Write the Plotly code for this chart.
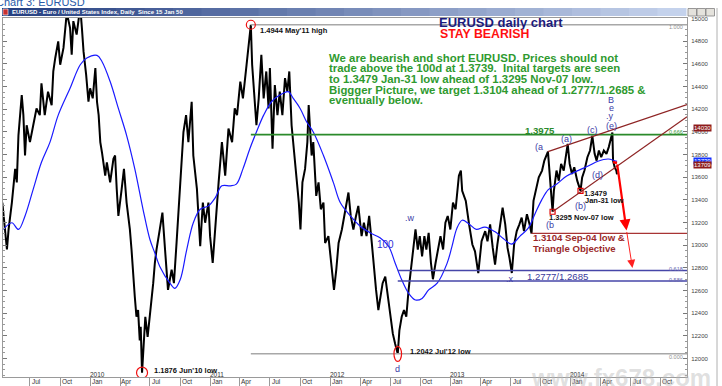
import plotly.graph_objects as go
import pandas as pd

# ---------------- data ----------------
price_dates = [
 "2009-04-08","2009-04-12","2009-04-22","2009-04-27","2009-05-07","2009-05-17","2009-05-22","2009-05-27",
 "2009-06-06","2009-06-11","2009-06-16","2009-06-21","2009-07-01","2009-07-11","2009-07-21","2009-07-31",
 "2009-08-05","2009-08-15","2009-08-25","2009-09-05","2009-09-10","2009-09-16","2009-09-25","2009-10-01",
 "2009-10-11","2009-10-21","2009-10-31","2009-11-05","2009-11-10","2009-11-20","2009-12-01","2009-12-06",
 "2009-12-11","2009-12-19","2009-12-26","2009-12-31","2010-01-08","2010-01-16","2010-01-21","2010-01-26",
 "2010-01-31","2010-02-05","2010-02-15","2010-02-20","2010-03-02","2010-03-12","2010-03-17","2010-03-22",
 "2010-03-27","2010-04-06","2010-04-13","2010-04-21","2010-05-01","2010-05-06","2010-05-11","2010-05-16",
 "2010-05-21","2010-05-26","2010-05-31","2010-06-03","2010-06-07","2010-06-12","2010-06-17","2010-06-24",
 "2010-07-01","2010-07-06","2010-07-11","2010-07-16","2010-07-21","2010-07-31","2010-08-08","2010-08-16",
 "2010-08-25","2010-09-05","2010-09-12","2010-09-20","2010-10-01","2010-10-11","2010-10-19","2010-10-26",
 "2010-11-05","2010-11-10","2010-11-21","2010-11-26","2010-12-01","2010-12-09","2010-12-16","2010-12-26",
 "2010-12-31","2011-01-08","2011-01-16","2011-01-26","2011-02-05","2011-02-15","2011-02-25","2011-03-08",
 "2011-03-16","2011-03-23","2011-04-02","2011-04-10","2011-04-21","2011-04-28","2011-05-04","2011-05-08",
 "2011-05-13","2011-05-21","2011-05-28","2011-06-05","2011-06-12","2011-06-20","2011-06-27","2011-07-01",
 "2011-07-09","2011-07-16","2011-07-24","2011-07-31","2011-08-08","2011-08-16","2011-08-23","2011-08-29",
 "2011-09-05","2011-09-12","2011-09-20","2011-09-27","2011-10-02","2011-10-08","2011-10-16","2011-10-23",
 "2011-10-27","2011-11-05","2011-11-10","2011-11-19","2011-11-26","2011-12-03","2011-12-11","2011-12-16",
 "2011-12-26","2012-01-05","2012-01-12","2012-01-19","2012-01-26","2012-02-05","2012-02-15","2012-02-25",
 "2012-03-03","2012-03-11","2012-03-19","2012-03-26","2012-04-05","2012-04-12","2012-04-20","2012-04-28",
 "2012-05-06","2012-05-11","2012-05-19","2012-05-26","2012-05-31","2012-06-08","2012-06-16","2012-06-23",
 "2012-07-01","2012-07-09","2012-07-16","2012-07-24","2012-07-29","2012-08-05","2012-08-12","2012-08-19",
 "2012-08-26","2012-09-02","2012-09-08","2012-09-16","2012-09-23","2012-09-29","2012-10-06","2012-10-13",
 "2012-10-19","2012-10-26","2012-11-02","2012-11-08","2012-11-16","2012-11-23","2012-12-01","2012-12-09",
 "2012-12-16","2012-12-23","2012-12-31","2013-01-08","2013-01-16","2013-01-26","2013-02-01","2013-02-05",
 "2013-02-16","2013-02-26","2013-03-08","2013-03-16","2013-03-26","2013-04-05","2013-04-16","2013-04-23",
 "2013-05-01","2013-05-09","2013-05-16","2013-05-23","2013-05-31","2013-06-08","2013-06-16","2013-06-23",
 "2013-06-29","2013-07-06","2013-07-13","2013-07-21","2013-07-29","2013-08-05","2013-08-12","2013-08-21",
 "2013-08-29","2013-09-04","2013-09-10","2013-09-19","2013-09-26","2013-10-06","2013-10-13","2013-10-24",
 "2013-10-28","2013-11-01","2013-11-07","2013-11-11","2013-11-19","2013-11-26","2013-12-03","2013-12-11",
 "2013-12-18","2013-12-23","2013-12-29","2014-01-05","2014-01-12","2014-01-21","2014-01-31","2014-02-05",
 "2014-02-12","2014-02-21","2014-03-01","2014-03-08","2014-03-15","2014-03-21","2014-03-28","2014-04-04",
 "2014-04-12","2014-04-20","2014-04-27","2014-05-08","2014-05-10","2014-05-15","2014-05-20","2014-05-22"]
price_vals = [
 1.3376,1.3258,1.2962,1.3139,1.3376,1.3673,1.3554,1.3969,
 1.4324,1.4147,1.3791,1.4058,1.3909,1.4058,1.4206,1.4147,
 1.4428,1.4147,1.4354,1.4235,1.4532,1.4651,1.4798,1.4591,
 1.4740,1.5050,1.4917,1.4680,1.4976,1.4858,1.5100,1.4917,
 1.4709,1.4502,1.4265,1.4384,1.4295,1.4562,1.4265,1.4147,
 1.3909,1.3820,1.3613,1.3731,1.3554,1.3762,1.3791,1.3495,
 1.3258,1.3495,1.3673,1.3376,1.3139,1.2962,1.2724,1.2546,
 1.2369,1.2428,1.2161,1.2280,1.1876,1.2131,1.2369,1.2191,
 1.2369,1.2517,1.2665,1.2843,1.2962,1.3139,1.3287,1.2962,
 1.2606,1.2784,1.2665,1.3020,1.3554,1.3998,1.4147,1.3909,
 1.4265,1.3791,1.3495,1.3258,1.2991,1.3376,1.3198,1.3376,
 1.3080,1.2843,1.3198,1.3554,1.3909,1.3613,1.4028,1.3909,
 1.4206,1.4147,1.4443,1.4295,1.4591,1.4798,1.4944,1.4591,
 1.4354,1.4058,1.4295,1.4680,1.4295,1.4532,1.4206,1.4562,
 1.3851,1.4413,1.4147,1.4354,1.4147,1.4473,1.4354,1.4532,
 1.4058,1.3851,1.3613,1.3376,1.3139,1.3554,1.3673,1.3909,
 1.4235,1.3791,1.3909,1.3435,1.3554,1.3317,1.3376,1.3020,
 1.3080,1.2784,1.2606,1.2784,1.3020,1.3139,1.3317,1.3465,
 1.3258,1.3139,1.3258,1.3347,1.3080,1.3198,1.3080,1.3258,
 1.3020,1.2843,1.2606,1.2428,1.2517,1.2665,1.2724,1.2576,
 1.2369,1.2220,1.2131,1.2042,1.2250,1.2369,1.2428,1.2369,
 1.2606,1.2784,1.2962,1.3139,1.2962,1.3080,1.2902,1.3080,
 1.2962,1.3109,1.2843,1.2700,1.2843,1.2962,1.3080,1.2962,
 1.3198,1.3258,1.3139,1.3376,1.3317,1.3613,1.3658,1.3480,
 1.3391,1.3184,1.3006,1.2946,1.2754,1.3035,1.3124,1.3035,
 1.3184,1.2976,1.2828,1.3006,1.3184,1.3331,1.3184,1.2976,
 1.2887,1.2755,1.3006,1.3124,1.3184,1.3243,1.3124,1.3273,
 1.3184,1.3104,1.3391,1.3509,1.3598,1.3658,1.3746,1.3825,
 1.3687,1.3480,1.3295,1.3480,1.3658,1.3569,1.3717,1.3658,
 1.3776,1.3893,1.3717,1.3628,1.3687,1.3569,1.3479,1.3598,
 1.3658,1.3776,1.3835,1.3965,1.3806,1.3746,1.3835,1.3776,
 1.3835,1.3806,1.3865,1.3993,1.3746,1.3687,1.3658,1.3625]

ma_dates = [
 "2009-04-11","2009-05-07","2009-05-27","2009-06-16","2009-07-11","2009-08-05","2009-08-31","2009-09-25",
 "2009-10-31","2009-12-01","2009-12-21","2010-01-21","2010-02-05","2010-03-02","2010-03-27","2010-04-21",
 "2010-05-16","2010-06-10","2010-07-01","2010-07-16","2010-07-31","2010-08-31","2010-09-15","2010-10-01",
 "2010-10-21","2010-11-10","2010-12-01","2010-12-26","2011-01-16","2011-02-05","2011-03-03","2011-03-21",
 "2011-04-10","2011-05-01","2011-05-21","2011-06-12","2011-07-06","2011-07-31","2011-08-26","2011-09-10",
 "2011-10-01","2011-10-21","2011-11-10","2011-12-11","2012-01-10","2012-01-31","2012-03-02","2012-03-31",
 "2012-05-01","2012-05-31","2012-06-26","2012-07-16","2012-08-05","2012-08-26","2012-09-16","2012-10-06",
 "2012-10-26","2012-11-21","2012-12-21","2013-01-05","2013-01-20","2013-02-05","2013-02-25","2013-03-20",
 "2013-04-15","2013-05-15","2013-06-10","2013-07-05","2013-07-31","2013-08-25","2013-09-15","2013-10-05",
 "2013-10-25","2013-11-20","2013-12-20","2014-01-25","2014-02-25","2014-03-25","2014-04-25","2014-05-15",
 "2014-05-22"]
ma_vals = [
 1.3139,1.3198,1.3139,1.3258,1.3495,1.3731,1.3909,1.4147,
 1.4384,1.4591,1.4651,1.4674,1.4620,1.4443,1.4206,1.3969,
 1.3673,1.3317,1.3050,1.2931,1.2813,1.2665,1.2620,1.2695,
 1.2962,1.3198,1.3317,1.3347,1.3420,1.3524,1.3524,1.3539,
 1.3673,1.3851,1.3998,1.4147,1.4265,1.4324,1.4354,1.4295,
 1.4206,1.4087,1.3998,1.3791,1.3554,1.3376,1.3258,1.3169,
 1.3109,1.3065,1.2991,1.2843,1.2695,1.2576,1.2517,1.2531,
 1.2606,1.2665,1.2840,1.2990,1.3150,1.3220,1.3190,1.3140,
 1.3160,1.3120,1.3060,1.3010,1.3080,1.3150,1.3280,1.3400,
 1.3490,1.3540,1.3610,1.3660,1.3700,1.3740,1.3760,1.3745,
 1.3739]

key_dates = ["2010-06-07", "2011-05-04", "2012-07-24", "2013-09-04", "2013-11-07", "2014-01-31"]
key_vals = [1.1876, 1.4944, 1.2042, 1.3104, 1.3295, 1.3479]
green_level = 1.3975
blue_levels = [1.2777, 1.2685]
upper_trend_dates = ["2013-10-24", "2014-12-21"]
upper_trend_vals = [1.3825, 1.4240]
lower_trend_dates = ["2013-11-07", "2014-12-21"]
lower_trend_vals = [1.3295, 1.4133]
arrow_dates = ["2014-05-10", "2014-05-22", "2014-06-20", "2014-07-08"]
arrow_vals = [1.3734, 1.3725, 1.3130, 1.2800]
last_box_vals = [1.4030, 1.3739, 1.3709]
last_box_text = ["14030", "13739", "13709"]

y_tick_vals = [round(1.20 + 0.02 * i, 2) for i in range(16)]
y_tick_text = ["%d" % round(v * 10000) for v in y_tick_vals]
quarter_starts = list(pd.date_range("2009-07-01", "2014-10-01", freq="QS-JAN"))
quarter_labels = [{1: "Jan", 4: "Apr", 7: "Jul", 10: "Oct"}[d.month] for d in quarter_starts]
year_labels = ["2010", "2011", "2012", "2013", "2014"]

# ---------------- layout geometry ----------------
W, H = 722, 386
PL, PR, PT, PB = 3, 687, 18, 377
X_RANGE = ["2009-04-10", "2014-12-21"]
Y_RANGE = [1.18379, 1.50035]
FONT = "Arial, 'Liberation Sans', sans-serif"

def px(x):
    return (x - PL) / (PR - PL)

def py(y):
    return (PB - y) / (PB - PT)

fig = go.Figure()
fig.add_trace(go.Scatter(x=price_dates, y=price_vals, mode="lines",
                         line=dict(color="#000000", width=2.0), hoverinfo="skip"))
fig.add_trace(go.Scatter(x=ma_dates, y=ma_vals, mode="lines", line_shape="spline",
                         line=dict(color="#1a1aff", width=1.2), hoverinfo="skip"))
fig.add_trace(go.Scatter(x=key_dates[4:], y=key_vals[4:], mode="markers",
                         marker=dict(symbol="square-open", size=5, color="#e00000", line=dict(width=1.2)),
                         hoverinfo="skip"))

shapes = []
ann = []

# window-like title bar (gradient approximation)
n = 24
c0, c1 = (38, 64, 130), (196, 210, 236)
for i in range(n):
    t = i / (n - 1)
    col = "rgb(%d,%d,%d)" % tuple(int(c0[k] + (c1[k] - c0[k]) * t) for k in range(3))
    x0 = 2 + (686 - 2) * i / n
    x1 = 2 + (686 - 2) * (i + 1) / n + 0.5
    shapes.append(dict(type="rect", xref="paper", yref="paper", x0=px(x0), x1=px(x1),
                       y0=py(16), y1=py(8), line=dict(width=0), fillcolor=col, layer="below"))
for bx in [688, 697, 706]:
    shapes.append(dict(type="rect", xref="paper", yref="paper", x0=px(bx), x1=px(bx + 8.5),
                       y0=py(16), y1=py(8.5), line=dict(color="#808080", width=0.8), fillcolor="#e4e2dc"))
shapes.append(dict(type="rect", xref="paper", yref="paper", x0=px(3), x1=px(8),
                   y0=py(15), y1=py(9), line=dict(color="#ffffff", width=0.6), fillcolor="#c83030"))
ann.append(dict(text="<b>EURUSD - Euro / United States Index, Daily  Since 15 Jan 50</b>",
                x=px(10), y=py(12), xanchor="left", yanchor="middle",
                font=dict(size=6, color="#ffffff", family=FONT)))
ann.append(dict(text="Chart 3: EURUSD", x=px(-6), y=py(10), xanchor="left", yanchor="bottom",
                font=dict(size=11, color="#2a5aa8", family=FONT)))
# right window frame
shapes.append(dict(type="line", xref="paper", yref="paper", x0=px(717), x1=px(717), y0=py(386), y1=py(8),
                   line=dict(color="#b0b0b0", width=1)))

# horizontal levels
x_end = X_RANGE[1]
shapes.append(dict(type="line", xref="x", yref="y", x0=key_dates[1], x1=x_end, y0=key_vals[1], y1=key_vals[1],
                   line=dict(color="#a8a8a8", width=1.5)))
shapes.append(dict(type="line", xref="x", yref="y", x0=key_dates[1], x1=x_end, y0=key_vals[2], y1=key_vals[2],
                   line=dict(color="#a8a8a8", width=1.5)))
shapes.append(dict(type="line", xref="x", yref="y", x0=key_dates[1], x1=x_end, y0=green_level, y1=green_level,
                   line=dict(color="#2b8a2b", width=1.6)))
for lv in blue_levels:
    shapes.append(dict(type="line", xref="x", yref="y", x0=key_dates[2], x1=x_end, y0=lv, y1=lv,
                       line=dict(color="#4646a8", width=1.6)))
shapes.append(dict(type="line", xref="x", yref="y", x0=key_dates[3], x1=x_end, y0=key_vals[3], y1=key_vals[3],
                   line=dict(color="#a83434", width=1.1)))
# trend lines
shapes.append(dict(type="line", xref="x", yref="y", x0=upper_trend_dates[0], x1=upper_trend_dates[1],
                   y0=upper_trend_vals[0], y1=upper_trend_vals[1], line=dict(color="#8e2424", width=1.3)))
shapes.append(dict(type="line", xref="x", yref="y", x0=lower_trend_dates[0], x1=lower_trend_dates[1],
                   y0=lower_trend_vals[0], y1=lower_trend_vals[1], line=dict(color="#8e2424", width=1.1)))
# red circles
def ring(d, v, rx, ry):
    return dict(type="circle", xref="x", yref="y", xsizemode="pixel", ysizemode="pixel",
                xanchor=d, yanchor=v, x0=-rx, x1=rx, y0=-ry, y1=ry,
                line=dict(color="#f01010", width=1.2))
shapes.append(ring(key_dates[1], key_vals[1], 4.5, 4.5))
shapes.append(ring(key_dates[0], key_vals[0], 5.5, 5.5))
shapes.append(ring(key_dates[2], key_vals[2], 3.8, 7.5))
# arrow
shapes.append(dict(type="line", xref="x", yref="y", x0=arrow_dates[0], x1=arrow_dates[1],
                   y0=arrow_vals[0], y1=arrow_vals[1], line=dict(color="#ff0000", width=2.4)))
ann.append(dict(x=arrow_dates[2], y=arrow_vals[2], ax=arrow_dates[1], ay=arrow_vals[1],
                xref="x", yref="y", axref="x", ayref="y", text="", showarrow=True,
                arrowhead=2, arrowsize=1, arrowwidth=2.2, arrowcolor="#ff0000"))
ann.append(dict(x=arrow_dates[3], y=arrow_vals[3], ax=arrow_dates[2], ay=arrow_vals[2],
                xref="x", yref="y", axref="x", ayref="y", text="", showarrow=True,
                arrowhead=2, arrowsize=1.6, arrowwidth=1, arrowcolor="#ff2020"))

def T(text, x, y, size, color, bold=False, anchor="left"):
    if bold:
        text = "<b>" + text + "</b>"
    ann.append(dict(text=text, x=px(x), y=py(y), xanchor=anchor, yanchor="middle", showarrow=False,
                    font=dict(size=size, color=color, family=FONT)))

# headline texts
T("EURUSD daily chart", 437, 22, 13, "#1b1b7c", True)
T("STAY BEARISH", 438, 34, 12.3, "#ff1010", True)
green_lines = ["We are bearish and short EURUSD. Prices should not",
               "trade above the 100d at 1.3739.\u00a0 Inital targets are seen",
               "to 1.3479 Jan-31 low ahead of 1.3295 Nov-07 low.",
               "Biggger Picture, we target 1.3104 ahead of 1.2777/1.2685 &",
               "eventually below."]
for i, line in enumerate(green_lines):
    T(line, 327, 57.7 + i * 10.6, 11.4, "#2f9a2f", True)

# level labels
T("1.4944 May'11 high", 258, 30, 7.5, "#111111", True)
T("1.1876 Jun'10 low", 152, 370, 7.5, "#111111", True)
T("1.2042 Jul'12 low", 408, 351.5, 7.5, "#111111", True)
T("1.3295 Nov-07 low", 547, 217.5, 7.5, "#111111", True)
T("1.3479", 582, 193, 7.5, "#111111", True)
T("Jan-31 low", 583, 200.5, 7.5, "#111111", True)
T("1.3975", 523, 130, 9.6, "#2b8a2b", True)
T("1.3104 Sep-04 low &", 531, 237.5, 9.6, "#9b2a2a", True)
T("Triangle Objective", 531, 248, 9.6, "#9b2a2a", True)
T("1.2777/1.2685", 557, 276.5, 9.6, "#3a3a9c", False, "center")
T("100", 385, 244, 10, "#2d2dd8", False, "center")
# fibonacci ratio tags
for txt, yy, col in [("1.000", 27, "#909090"), ("0.666", 132, "#3a9a3a"), ("0.618", 269, "#6a6ab0"),
                     ("0.586", 279.5, "#6a6ab0"), ("0.000", 356.5, "#909090")]:
    T(txt, 685, yy, 5.5, col, False, "right")
# wave labels
wave_col = "#3c3ca6"
for txt, x, y in [("(a", 539, 147), ("(a)", 566, 139), ("(c)", 592, 130), ("B", 611, 100), ("e", 611, 108),
                  (".y", 610, 116.5), ("(e)", 611, 126), ("(d)", 597, 175), ("(b)", 580, 206),
                  ("(b", 550, 225), (".w", 410, 218), (".x", 510, 279), ("d", 397, 369)]:
    T(txt, x, y, 9, wave_col, False, "center")

# last-value boxes on the price scale
box_cols = ["#8e1c1c", "#1030ff", "#8e1c1c"]
for v, t, c in zip(last_box_vals, last_box_text, box_cols):
    ann.append(dict(text=t, x=px(702), xref="paper", y=v, yref="y", xanchor="center", yanchor="middle",
                    showarrow=False, bgcolor=c, borderpad=0,
                    font=dict(size=6, color="#ffffff", family=FONT)))

# month labels (just right of each quarter separator) and year labels above the Jan ticks
for d, lab in zip(quarter_starts, quarter_labels):
    ann.append(dict(text=lab, x=d + pd.Timedelta(days=21), xref="x", y=py(381.5), yref="paper",
                    xanchor="center", yanchor="middle", showarrow=False,
                    font=dict(size=6.5, color="#333333", family=FONT)))
for yl in year_labels:
    d = pd.Timestamp(yl + "-01-01") + pd.Timedelta(days=21)
    ann.append(dict(text=yl, x=d, xref="x", y=py(374.3), yref="paper", xanchor="center", yanchor="middle",
                    showarrow=False, font=dict(size=6.5, color="#333333", family=FONT)))

# watermark
T("www.fx678.com", 621, 377, 24, "rgba(185,185,185,0.45)", True, "center")

for a in ann:
    a.setdefault("showarrow", False)
    a.setdefault("xref", "paper")
    a.setdefault("yref", "paper")

fig.update_layout(
    width=W, height=H,
    margin=dict(l=PL, r=W - PR, t=PT, b=H - PB, autoexpand=False),
    paper_bgcolor="#ffffff", plot_bgcolor="#ffffff",
    showlegend=False,
    shapes=shapes, annotations=ann,
    xaxis=dict(type="date", range=X_RANGE, showticklabels=False, automargin=False,
               ticks="", showgrid=False, zeroline=False, showline=True, linecolor="#9a9a9a", linewidth=1,
               mirror=True,
               minor=dict(tickmode="array", tickvals=quarter_starts, ticks="outside", ticklen=9,
                          tickcolor="#9a9a9a", showgrid=False)),
    yaxis=dict(range=Y_RANGE, side="right", tickmode="array", tickvals=y_tick_vals, ticktext=y_tick_text,
               automargin=False,
               ticks="inside", ticklen=4, tickcolor="#777777", showgrid=False, zeroline=False,
               showline=True, linecolor="#9a9a9a", linewidth=1, mirror="allticks",
               ticklabelstandoff=2, tickfont=dict(size=6, color="#444444", family=FONT),
               minor=dict(dtick=0.005, tick0=1.2, ticks="inside", ticklen=2, tickcolor="#999999")),
)

fig.write_html("out.html", config={"displayModeBar": False},
               post_script="document.body.style.margin='0';document.body.style.padding='0';")
